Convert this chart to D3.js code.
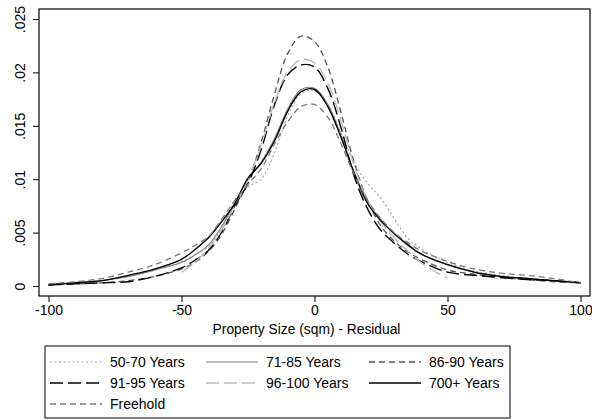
<!DOCTYPE html>
<html><head><meta charset="utf-8">
<script src="https://cdn.jsdelivr.net/npm/d3@7"></script>
<style>body{margin:0;background:#fff}svg{display:block}text{font-family:"Liberation Sans",Arial,Helvetica,sans-serif;fill:#000}</style>
</head><body>
<svg id="c" width="592" height="420"></svg>
<script>
const xFull = [-100,-90,-80,-70,-60,-50,-45,-40,-35,-30,-25,-20,-15,-10,-5,0,5,10,15,20,25,30,35,40,50,60,70,80,90,100];
const xMid = [-50,-45,-40,-35,-30,-25,-20,-15,-10,-5,0,5,10,15,20,25,30,35,40,45,50];
const y5070 = [.00012,.0003,.0005,.0009,.0015,.0023,.0029,.0037,.0053,.0080,.0093,.0100,.0125,.0160,.0180,.0183,.0170,.0143,.0115,.0096,.0082,.0063,.0045,.0035,.0022,.0014,.0010,.0007,.0005,.0003];
const y7185 = [.00012,.0003,.0005,.0009,.0015,.0022,.0029,.0038,.0055,.0078,.0100,.0116,.0138,.0166,.0184,.0185,.0170,.0141,.0106,.0079,.0062,.0049,.0038,.0030,.0020,.0013,.0009,.0007,.0005,.0003];
const y8690 = [.0001,.0002,.0003,.0005,.0009,.0016,.0022,.0032,.0048,.0072,.0098,.0135,.0180,.0218,.0234,.0229,.0205,.0162,.0115,.0080,.0056,.0042,.0032,.0025,.0015,.0011,.0008,.0006,.0004,.0003];
const y9195 = [.0001,.0002,.0003,.0004,.0009,.0017,.0024,.0033,.0050,.0075,.0096,.0128,.0170,.0198,.0207,.0205,.0185,.0148,.0102,.0072,.0052,.0040,.0030,.0023,.0013,.0010,.0008,.0006,.0005,.0003];
const y96100 = [.0013,.0022,.0035,.0052,.0076,.0100,.0132,.0172,.0201,.0212,.0209,.0190,.0155,.0112,.0080,.0060,.0045,.0033,.0022,.0014,.0007];
const y700 = [.00012,.0003,.0005,.0010,.0016,.0025,.0034,.0045,.0060,.0077,.0101,.0115,.0136,.0164,.0182,.0184,.0168,.0139,.0105,.0077,.0061,.0049,.0039,.0030,.0020,.0013,.0009,.0007,.0005,.0003];
const yFree = [.0002,.0004,.0007,.0013,.0020,.0031,.0038,.0046,.0062,.0080,.0095,.0110,.0133,.0154,.0168,.0170,.0158,.0133,.0104,.0080,.0063,.0050,.0041,.0033,.0023,.0016,.0012,.0010,.0007,.0003];
const seriesNames = ["50-70 Years","71-85 Years","86-90 Years","91-95 Years","96-100 Years","700+ Years","Freehold"];
const xTicks = [-100,-50,0,50,100];
const xTickLabels = ["-100","-50","0","50","100"];
const yTicks = [0,.005,.01,.015,.02,.025];
const yTickLabels = ["0",".005",".01",".015",".02",".025"];
const xTitle = "Property Size (sqm) - Residual";

const series = [
  {name:seriesNames[0], x:xFull, y:y5070, color:"#a8a8a8", dash:"2,2.5", w:1.2},
  {name:seriesNames[1], x:xFull, y:y7185, color:"#808080", dash:null, w:1.2},
  {name:seriesNames[2], x:xFull, y:y8690, color:"#555555", dash:"6,4", w:1.3},
  {name:seriesNames[3], x:xFull, y:y9195, color:"#000000", dash:"13,5", w:1.4},
  {name:seriesNames[4], x:xMid, y:y96100, color:"#bdbdbd", dash:"13,5", w:1.4},
  {name:seriesNames[5], x:xFull, y:y700, color:"#000000", dash:null, w:1.4},
  {name:seriesNames[6], x:xFull, y:yFree, color:"#7a7a7a", dash:"6,4", w:1.3}
];

const svg = d3.select("#c");
const L=39,T=9,R=590,B=296;
const x = d3.scaleLinear().domain([-100,100]).range([48.5,580.5]);
const y = d3.scaleLinear().domain([0,.025]).range([286,19]);

const line = d3.line().x(d=>x(d[0])).y(d=>y(d[1])).curve(d3.curveCatmullRom.alpha(0.5));
const g = svg.append("g");
series.forEach(s=>{
  const pts = s.x.map((v,i)=>[v,s.y[i]]);
  g.append("path").attr("d",line(pts)).attr("fill","none").attr("stroke",s.color)
   .attr("stroke-width",s.w).attr("stroke-dasharray",s.dash);
});

svg.append("rect").attr("x",L).attr("y",T).attr("width",R-L).attr("height",B-T)
  .attr("fill","none").attr("stroke","#000").attr("stroke-width",1.2);

const xa = svg.append("g").attr("transform",`translate(0,${B})`)
  .call(d3.axisBottom(x).tickValues(xTicks).tickSize(6).tickPadding(3).tickFormat((d,i)=>xTickLabels[i]));
xa.select(".domain").remove();
xa.selectAll("text").attr("font-size",14).style("font-family","Liberation Sans, Arial, sans-serif").attr("fill","#000");
xa.selectAll("line").attr("stroke","#000");

const ya = svg.append("g").attr("transform",`translate(${L},0)`)
  .call(d3.axisLeft(y).tickValues(yTicks).tickSize(6).tickFormat((d,i)=>yTickLabels[i]));
ya.select(".domain").remove();
ya.selectAll("line").attr("stroke","#000");
ya.selectAll("text").attr("font-size",14).style("font-family","Liberation Sans, Arial, sans-serif")
  .attr("fill","#000").attr("x",0).attr("dy",0)
  .attr("text-anchor","middle")
  .attr("transform","translate(-14,0) rotate(-90)");

svg.append("text").attr("x",x(-3)).attr("y",334).attr("text-anchor","middle")
  .attr("font-size",13.8).text(xTitle);

// legend
const lg = svg.append("g");
lg.append("rect").attr("x",45).attr("y",346).attr("width",465).attr("height",72)
  .attr("fill","#fff").attr("stroke","#000").attr("stroke-width",1);
const colX=[50,206,369], rowY=[362,383,404];
series.forEach((s,i)=>{
  const cx=colX[i%3], cy=rowY[Math.floor(i/3)];
  lg.append("line").attr("x1",cx).attr("x2",cx+52).attr("y1",cy).attr("y2",cy)
    .attr("stroke",s.color).attr("stroke-width",s.w).attr("stroke-dasharray",s.dash);
  lg.append("text").attr("x",cx+60).attr("y",cy+5).attr("font-size",14).text(s.name);
});
</script>
</body></html>
